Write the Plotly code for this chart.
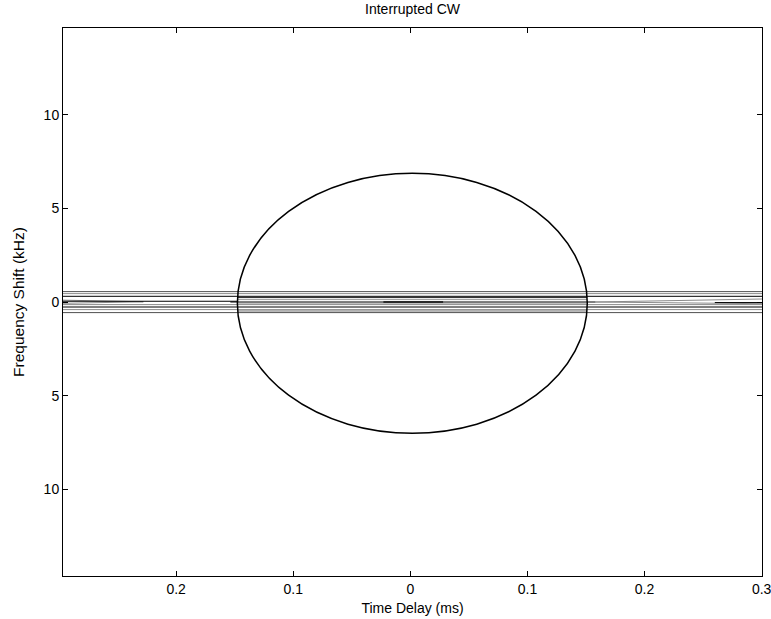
import plotly.graph_objects as go

# ---- data ----
title_text = "Interrupted CW"
x_label = "Time Delay (ms)"
y_label = "Frequency Shift (kHz)"

x_range = [-0.2966, 0.3003]
y_range = [-14.63, 14.63]

x_tick_vals = [-0.2, -0.1, 0.0, 0.1, 0.2, 0.3]
x_tick_text = ["0.2", "0.1", "0", "0.1", "0.2", "0.3"]
y_tick_vals = [-10, -5, 0, 5, 10]
y_tick_text = ["10", "5", "0", "5", "10"]

# outer contour (ellipse) bounding box
ellipse_x = [-0.1477, 0.1511]
ellipse_y = [-7.01, 6.87]

# full-width horizontal contour levels (kHz) and their shade
full_levels = [0.555, 0.448, 0.304, -0.139, -0.267, -0.406, -0.566]
full_shades = ["#505050", "#8c8c8c", "#000000", "#8c8c8c", "#000000", "#8c8c8c", "#505050"]

# contour levels that only run inside the outer contour
inner_levels = [0.235, 0.128, -0.07, -0.48]
inner_shades = ["#202020", "#9a9a9a", "#b0b0b0", "#707070"]

# central ridge segment at zero Doppler
ridge_x = [-0.1537, 0.158]
ridge_y = [0.0, 0.0]
# short peak segment
peak_x = [-0.023, 0.028]
peak_y = [0.0, 0.0]

# edge wedges (gray contours converging toward the centre)
wedge_left_x = [-0.2966, -0.228, -0.2966]
wedge_left_y = [0.10, 0.01, -0.07]
wedge_right_x = [0.3003, 0.158, 0.3003]
wedge_right_y = [0.16, 0.0, -0.09]
left_stub_x = [-0.2966, -0.147]
left_stub_y = [0.04, 0.04]
right_stub_x = [0.26, 0.3003]
right_stub_y = [-0.03, -0.03]

fig = go.Figure()

def add_line(xs, ys, color, width=1.0):
    fig.add_trace(go.Scatter(x=xs, y=ys, mode="lines",
                             line=dict(color=color, width=width),
                             hoverinfo="skip", showlegend=False))

for lvl, shade in zip(full_levels, full_shades):
    add_line([x_range[0], x_range[1]], [lvl, lvl], shade)

for lvl, shade in zip(inner_levels, inner_shades):
    add_line([ellipse_x[0], ellipse_x[1]], [lvl, lvl], shade)

add_line(wedge_left_x, wedge_left_y, "#8a8a8a")
add_line(wedge_right_x, wedge_right_y, "#8a8a8a")
add_line(left_stub_x, left_stub_y, "#000000")
add_line(right_stub_x, right_stub_y, "#000000")
add_line(ridge_x, ridge_y, "#000000", 1.2)
add_line(peak_x, peak_y, "#2a2a2a", 2.2)

fig.add_shape(type="circle", xref="x", yref="y",
              x0=ellipse_x[0], x1=ellipse_x[1], y0=ellipse_y[0], y1=ellipse_y[1],
              line=dict(color="#000000", width=1.5))

font_family = "Liberation Sans, Arial, sans-serif"
axis_common = dict(showgrid=False, zeroline=False, showline=True, linecolor="#000000",
                   linewidth=1, mirror="ticks", ticks="inside", ticklen=5,
                   tickcolor="#000000", automargin=False, ticklabeloverflow="allow",
                   tickfont=dict(family=font_family, size=14, color="#000000"))

fig.update_layout(
    width=771, height=619,
    margin=dict(l=63, r=9, t=28, b=43, autoexpand=False),
    paper_bgcolor="#ffffff", plot_bgcolor="#ffffff",
    title=dict(text=title_text, x=0.5, xanchor="center", xref="paper",
               y=1 - 9 / 619, yanchor="middle", automargin=False,
               font=dict(family=font_family, size=14, color="#000000")),
    xaxis=dict(range=x_range, tickvals=x_tick_vals, ticktext=x_tick_text,
               title=dict(text=x_label, standoff=7,
                          font=dict(family=font_family, size=14, color="#000000")),
               **axis_common),
    yaxis=dict(range=y_range, tickvals=y_tick_vals, ticktext=y_tick_text,
               title=dict(text=y_label, standoff=15,
                          font=dict(family=font_family, size=15.5, color="#000000")),
               **axis_common),
)

fig.write_html("out.html",
               config={"displayModeBar": False},
               post_script="document.body.style.margin='0';document.body.style.overflow='hidden';")
